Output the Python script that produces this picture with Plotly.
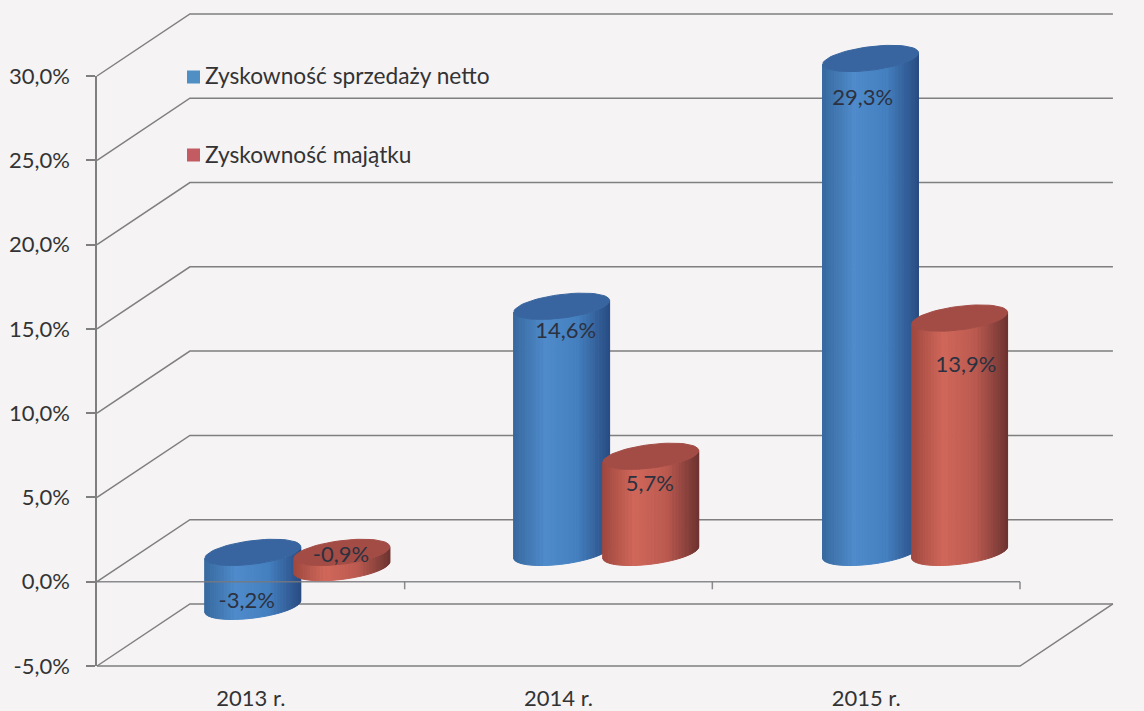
import numpy as np
import plotly.graph_objects as go

# Chart data
years = ["2013 r.", "2014 r.", "2015 r."]
sprzedaz_netto = [-3.2, 14.6, 29.3]
majatek = [-0.9, 5.7, 13.9]
y_ticks = [-5, 0, 5, 10, 15, 20, 25, 30]
legend_names = ["Zyskowność sprzedaży netto", "Zyskowność majątku"]

# Page geometry: the front plane of the chart sits inside these margins
W, H = 1144, 711
M_L, M_R, M_T, M_B = 97, 124, 76, 45
X_MIN, X_MAX = -0.5, 2.5
Y_MIN, Y_MAX = -5, 30
X_UNIT = (W - M_L - M_R) / (X_MAX - X_MIN)
Y_UNIT = (H - M_T - M_B) / (Y_MAX - Y_MIN)

# Oblique projection, in axis units
DEPTH_X, DEPTH_Y = 0.302, 3.68
BASE_Y = DEPTH_Y / 2 - 0.1
SERIES_SHIFT = [0.0065, 0.296]
CATEGORY_STEP = 1.004
RADIUS_X, SKEW_X, SKEW_Y = 0.14, 0.068, 0.78
STRIPS = 40

GRID = "#7f7f7f"
TEXT = "#333335"
FONT = "Lato"
SIZE = 22
BLUE = {"stops": ["#37699f", "#4f8bcb", "#4480c0", "#2a4d84"], "cap": "#38659f", "legend": "#4f8fc4"}
RED = {"stops": ["#a0483f", "#d0675a", "#bb5a50", "#6f3431"], "cap": "#a34c45", "legend": "#c25b62"}

# Data label placement relative to each cylinder top
label_dx = [[-0.02, 0.013, -0.026], [-0.003, -0.003, 0.02]]
label_drop = [[3.0, 1.57, 2.45], [0.25, 1.75, 2.89]]


def fmt(v):
    return f"{v:.1f}%".replace(".", ",")


def hexrgb(c):
    return np.array([int(c[i:i + 2], 16) for i in (1, 3, 5)], dtype=float)


def shade(stops, s):
    pos = np.linspace(0, 1, len(stops))
    rgb = [np.interp(s, pos, [hexrgb(c)[k] for c in stops]) for k in range(3)]
    return "rgb({:.0f},{:.0f},{:.0f})".format(*rgb)


def ring(cx, cy, t):
    """Circle on a horizontal plane as seen through the oblique projection."""
    return (cx + RADIUS_X * np.cos(t) + SKEW_X * np.sin(t), cy + SKEW_Y * np.sin(t))


def poly(xs, ys, color):
    return go.Scatter(x=xs, y=ys, xaxis="x2", yaxis="y2", mode="lines", fill="toself",
                      fillcolor=color, line=dict(color=color, width=1),
                      hoverinfo="skip", showlegend=False)


def cylinder(cx, value, style):
    top_y = BASE_Y + max(value, 0)
    low_y = BASE_Y + min(value, 0)
    # Visible side runs between the two silhouette points, through the front
    t0 = np.arctan2(SKEW_X, RADIUS_X)
    ts = np.linspace(t0 - np.pi, t0, STRIPS + 1)
    half = np.hypot(RADIUS_X, SKEW_X)
    out = []
    for a, b in zip(ts[:-1], ts[1:]):
        seg = np.linspace(a, b, 3)
        tx, ty = ring(cx, top_y, seg)
        bx, by = ring(cx, low_y, seg)
        xm, _ = ring(cx, 0, (a + b) / 2)
        s = (xm - cx + half) / (2 * half)
        out.append(poly(np.r_[tx, bx[::-1], tx[0]], np.r_[ty, by[::-1], ty[0]],
                        shade(style["stops"], s)))
    t = np.linspace(0, 2 * np.pi, 61)
    ex, ey = ring(cx, top_y, t)
    out.append(poly(ex, ey, style["cap"]))
    return out


fig = go.Figure()

# Empty trace that brings up the visible value and category axes
fig.add_trace(go.Scatter(x=[None], y=[None], mode="markers", hoverinfo="skip", showlegend=False))

# Side wall, back wall and floor lines
gx, gy = [], []
for v in y_ticks:
    gx += [X_MIN, X_MIN + DEPTH_X, X_MAX + DEPTH_X, None]
    gy += [v, v + DEPTH_Y, v + DEPTH_Y, None]
gx += [X_MIN, X_MAX, X_MAX + DEPTH_X]
gy += [Y_MIN, Y_MIN, Y_MIN + DEPTH_Y]
fig.add_trace(go.Scatter(x=gx, y=gy, xaxis="x2", yaxis="y2", mode="lines",
                         line=dict(color=GRID, width=1.5), hoverinfo="skip", showlegend=False))

# Cylinders, with the second series in front of the first
for i in range(len(years)):
    for k, (vals, style) in enumerate(((sprzedaz_netto, BLUE), (majatek, RED))):
        for tr in cylinder(i * CATEGORY_STEP + SERIES_SHIFT[k], vals[i], style):
            fig.add_trace(tr)

# Category axis at zero, with its tick marks
ax, ay = [X_MIN, X_MAX], [0, 0]
for edge in (0.5, 1.5, 2.5):
    ax += [None, edge, edge]
    ay += [None, 0, -0.45]
fig.add_trace(go.Scatter(x=ax, y=ay, xaxis="x2", yaxis="y2", mode="lines",
                         line=dict(color="rgba(120,120,124,0.85)", width=1.5),
                         hoverinfo="skip", showlegend=False))

# Value labels
for k, vals in enumerate((sprzedaz_netto, majatek)):
    fig.add_trace(go.Scatter(
        x=[i * CATEGORY_STEP + SERIES_SHIFT[k] + label_dx[k][i] for i in range(3)],
        y=[BASE_Y + max(v, 0) - label_drop[k][i] for i, v in enumerate(vals)],
        xaxis="x2", yaxis="y2", mode="text", text=[fmt(v) for v in vals],
        textposition="middle center", textfont=dict(family=FONT, size=SIZE, color="#2c3140"),
        hoverinfo="skip", showlegend=False))

# Legend: coloured swatch followed by the series name
legend_rows = [(77, BLUE["legend"]), (155, RED["legend"])]
shapes, notes = [], []
for name, (py, color) in zip(legend_names, legend_rows):
    shapes.append(dict(type="rect", xref="paper", yref="paper", line_width=0, fillcolor=color,
                       x0=187 / W, x1=200 / W, y0=1 - (py + 6.5) / H, y1=1 - (py - 6.5) / H))
    notes.append(dict(xref="paper", yref="paper", x=203 / W, y=1 - (py - 1) / H, text=name, showarrow=False,
                      xanchor="left", yanchor="middle",
                      font=dict(family=FONT, size=22.7, color=TEXT)))

fig.update_layout(
    width=W, height=H,
    margin=dict(l=0, r=0, t=0, b=0, autoexpand=False),
    paper_bgcolor="#f5f3f4", plot_bgcolor="rgba(0,0,0,0)",
    font=dict(family=FONT, size=SIZE, color=TEXT),
    showlegend=False, shapes=shapes, annotations=notes,
    xaxis=dict(domain=[M_L / W, (W - M_R) / W], range=[X_MIN, X_MAX], anchor="y",
               tickvals=[0, 1, 2], ticktext=years, showgrid=False, zeroline=False, showline=False,
               ticks="outside", ticklen=13, tickcolor="rgba(0,0,0,0)",
               tickfont=dict(family=FONT, size=SIZE, color=TEXT)),
    yaxis=dict(domain=[M_B / H, (H - M_T) / H], range=[Y_MIN, Y_MAX], anchor="x",
               tickvals=y_ticks, ticktext=[fmt(v) for v in y_ticks],
               showgrid=False, zeroline=False, showline=True, linecolor=GRID, linewidth=1.5,
               ticks="outside", ticklen=9, tickcolor=GRID, tickwidth=1.5, ticklabelstandoff=12,
               tickfont=dict(family=FONT, size=SIZE, color=TEXT)),
    # Same scales as above, stretched over the full page so the depth lines can run past the front plane
    xaxis2=dict(domain=[0, 1], anchor="y2", visible=False,
                range=[X_MIN - M_L / X_UNIT, X_MAX + M_R / X_UNIT]),
    yaxis2=dict(domain=[0, 1], anchor="x2", visible=False,
                range=[Y_MIN - M_B / Y_UNIT, Y_MAX + M_T / Y_UNIT]),
)

fig.write_html("out.html")
